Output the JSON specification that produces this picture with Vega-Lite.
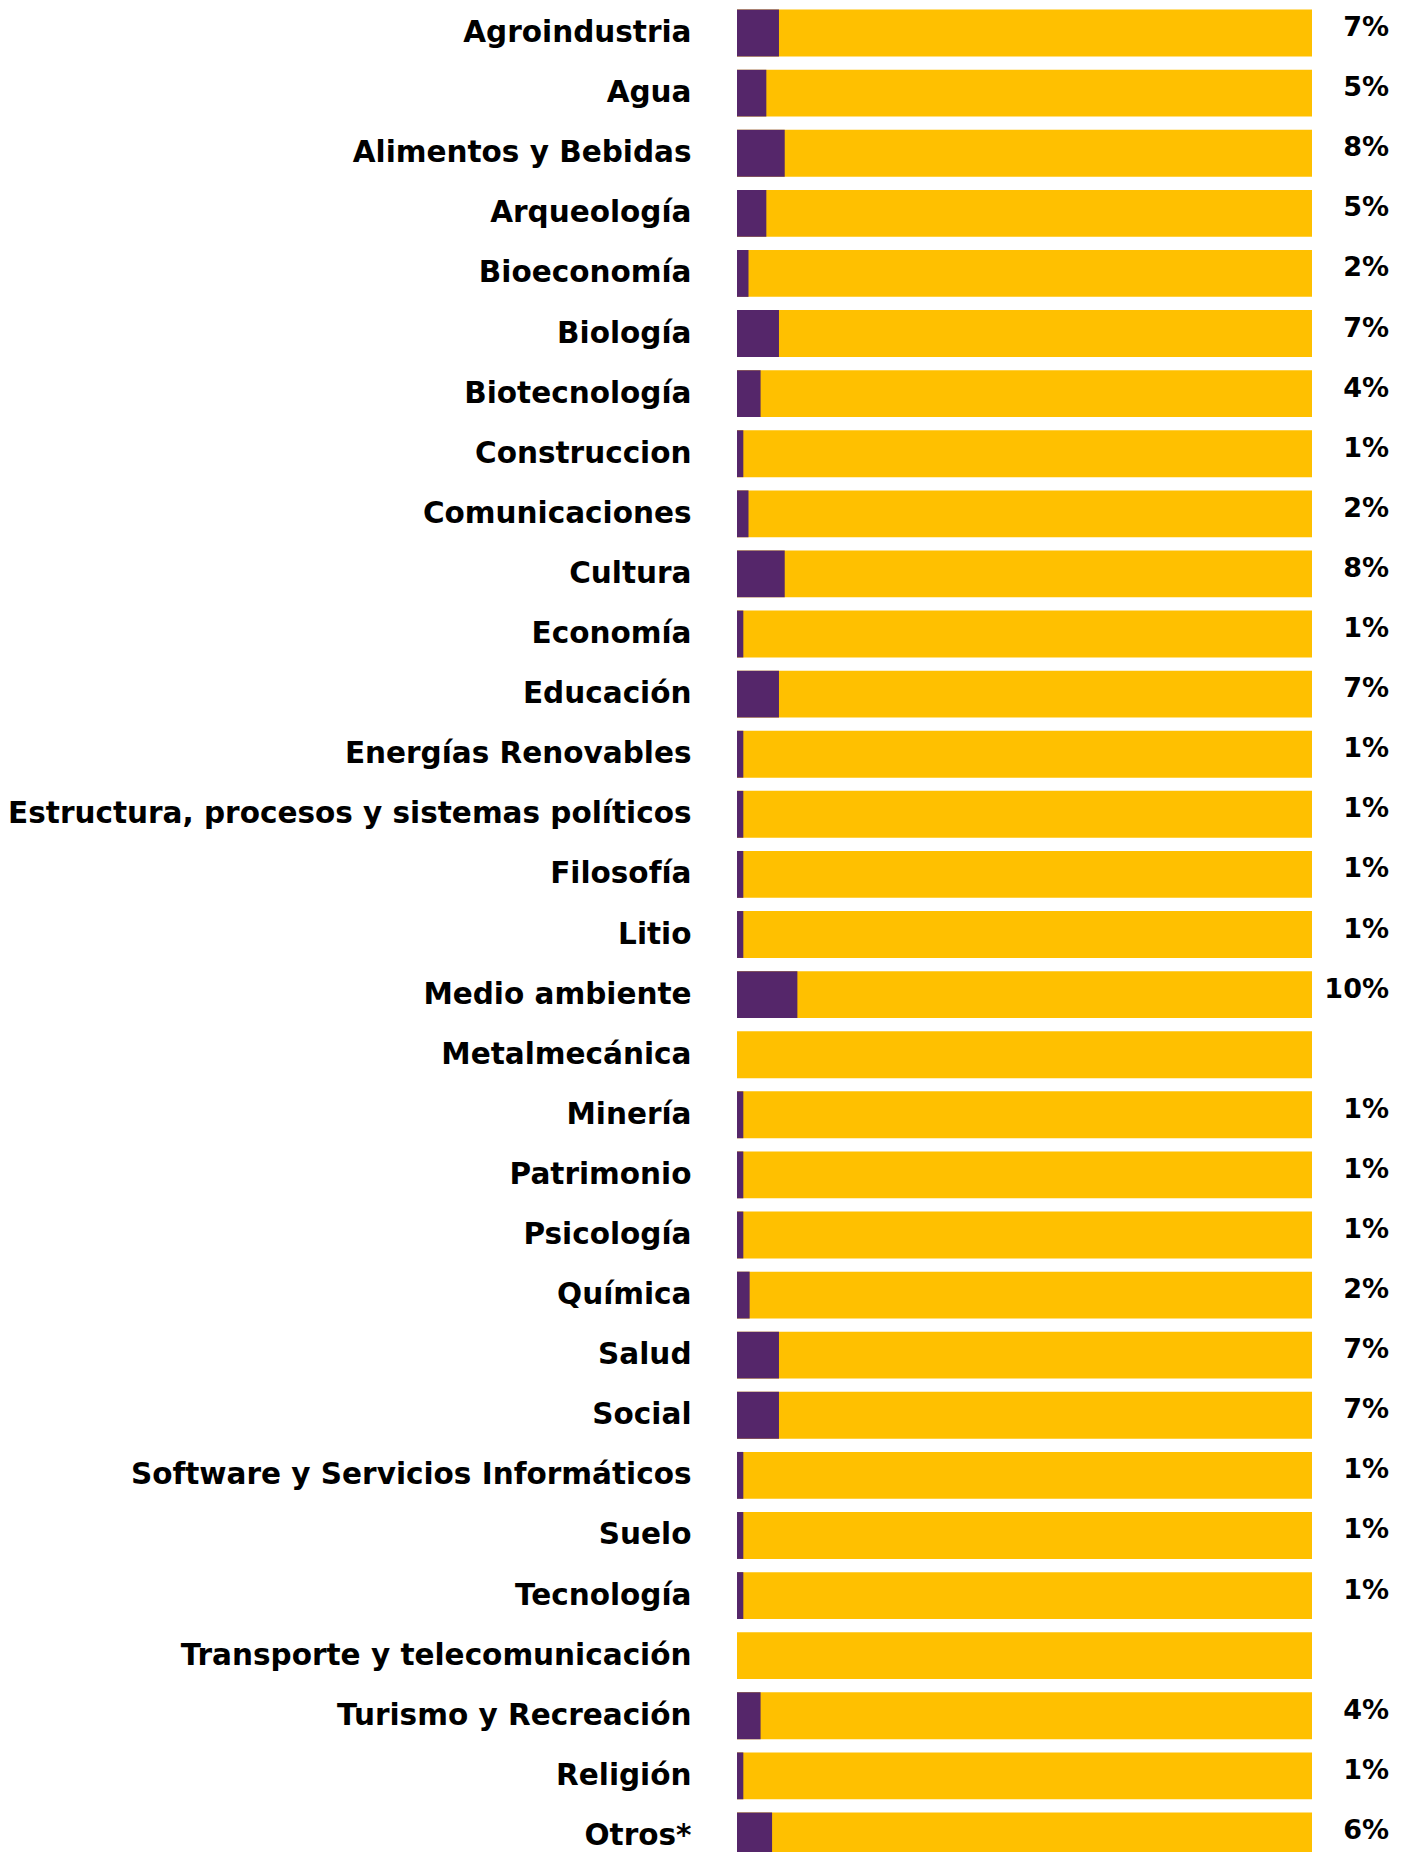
{
  "$schema": "https://vega.github.io/schema/vega-lite/v6.json",
  "width": 575,
  "height": 1863,
  "autosize": {"type": "none"},
  "padding": {"left": 737, "top": 3, "right": 96, "bottom": 0},
  "background": "white",
  "config": {"view": {"stroke": null}, "font": "DejaVu Sans"},
  "data": {"values": [
    {"area": "Agroindustria", "pct": 7.3, "total": 100, "label": "7%"},
    {"area": "Agua", "pct": 5.1, "total": 100, "label": "5%"},
    {"area": "Alimentos y Bebidas", "pct": 8.3, "total": 100, "label": "8%"},
    {"area": "Arqueología", "pct": 5.1, "total": 100, "label": "5%"},
    {"area": "Bioeconomía", "pct": 2.0, "total": 100, "label": "2%"},
    {"area": "Biología", "pct": 7.3, "total": 100, "label": "7%"},
    {"area": "Biotecnología", "pct": 4.1, "total": 100, "label": "4%"},
    {"area": "Construccion", "pct": 1.1, "total": 100, "label": "1%"},
    {"area": "Comunicaciones", "pct": 2.0, "total": 100, "label": "2%"},
    {"area": "Cultura", "pct": 8.3, "total": 100, "label": "8%"},
    {"area": "Economía", "pct": 1.1, "total": 100, "label": "1%"},
    {"area": "Educación", "pct": 7.3, "total": 100, "label": "7%"},
    {"area": "Energías Renovables", "pct": 1.1, "total": 100, "label": "1%"},
    {"area": "Estructura, procesos y sistemas políticos", "pct": 1.1, "total": 100, "label": "1%"},
    {"area": "Filosofía", "pct": 1.1, "total": 100, "label": "1%"},
    {"area": "Litio", "pct": 1.1, "total": 100, "label": "1%"},
    {"area": "Medio ambiente", "pct": 10.5, "total": 100, "label": "10%"},
    {"area": "Metalmecánica", "pct": 0, "total": 100, "label": ""},
    {"area": "Minería", "pct": 1.1, "total": 100, "label": "1%"},
    {"area": "Patrimonio", "pct": 1.1, "total": 100, "label": "1%"},
    {"area": "Psicología", "pct": 1.1, "total": 100, "label": "1%"},
    {"area": "Química", "pct": 2.2, "total": 100, "label": "2%"},
    {"area": "Salud", "pct": 7.3, "total": 100, "label": "7%"},
    {"area": "Social", "pct": 7.3, "total": 100, "label": "7%"},
    {"area": "Software y Servicios Informáticos", "pct": 1.1, "total": 100, "label": "1%"},
    {"area": "Suelo", "pct": 1.1, "total": 100, "label": "1%"},
    {"area": "Tecnología", "pct": 1.1, "total": 100, "label": "1%"},
    {"area": "Transporte y telecomunicación", "pct": 0, "total": 100, "label": ""},
    {"area": "Turismo y Recreación", "pct": 4.1, "total": 100, "label": "4%"},
    {"area": "Religión", "pct": 1.1, "total": 100, "label": "1%"},
    {"area": "Otros*", "pct": 6.1, "total": 100, "label": "6%"}
  ]},
  "encoding": {
    "y": {
      "field": "area", "type": "nominal", "sort": null,
      "scale": {"paddingInner": 0.22, "paddingOuter": 0.11},
      "axis": {"title": null, "domain": false, "ticks": false, "labelFontSize": 29.5, "labelFontWeight": "bold", "labelColor": "black", "labelPadding": 46, "labelLimit": 0}
    }
  },
  "layer": [
    {"mark": {"type": "bar", "color": "#FFC000"},
     "encoding": {"x": {"field": "total", "type": "quantitative", "scale": {"domain": [0, 100]}, "axis": null}}},
    {"mark": {"type": "bar", "color": "#55266A"},
     "encoding": {"x": {"field": "pct", "type": "quantitative"}}},
    {"mark": {"type": "text", "align": "right", "dx": 77, "dy": -5, "fontSize": 27, "fontWeight": "bold", "color": "black"},
     "encoding": {"x": {"field": "total", "type": "quantitative"}, "text": {"field": "label"}}}
  ]
}
